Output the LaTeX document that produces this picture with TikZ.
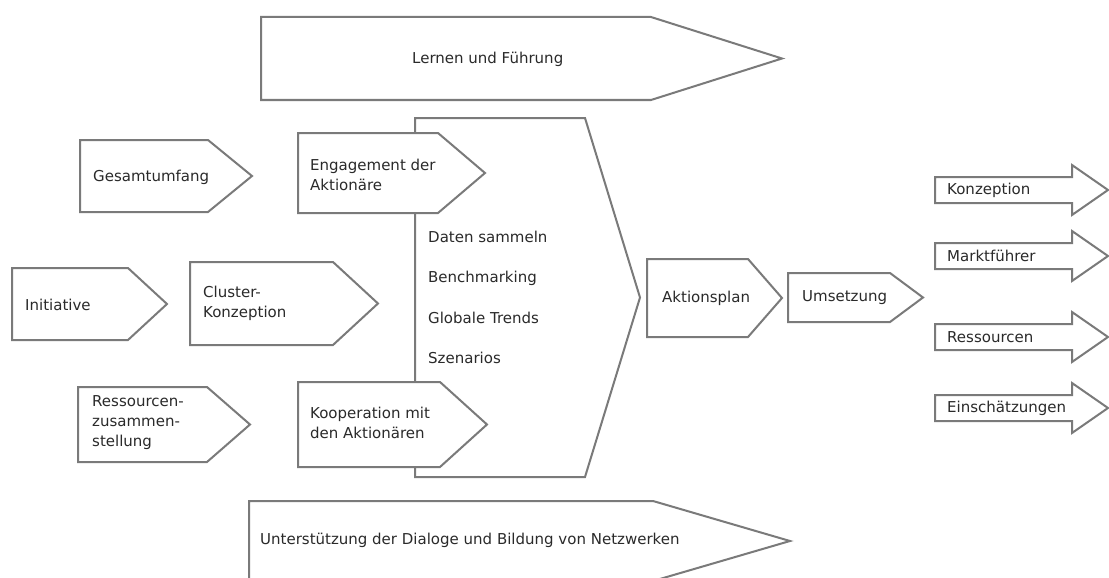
\documentclass[tikz,border=0pt]{standalone}
\usepackage{fontspec}
\setmainfont{DejaVu Sans}
\definecolor{linegray}{HTML}{7A7A7A}
\definecolor{txtgray}{HTML}{2A2A2A}
\tikzset{
  shp/.style={draw=linegray, line width=2pt, fill=white, line join=miter},
  lbl/.style={anchor=west, inner sep=0pt, align=left, text=txtgray, font=\fontsize{15}{20}\selectfont},
}
\newcommand\pentabox[5]{\draw[shp] (#1,#2) -- (#4,#2) -- (#5,{(#2+#3)/2}) -- (#4,#3) -- (#1,#3) -- cycle;}
\newcommand\rarrowbox[1]{\draw[shp] (935,{#1-13}) -- (1072,{#1-13}) -- (1072,{#1-25}) -- (1108,#1) -- (1072,{#1+25}) -- (1072,{#1+13}) -- (935,{#1+13}) -- cycle;}
\begin{document}
\begin{tikzpicture}[x=1pt,y=-1pt]
\useasboundingbox (0,0) rectangle (1109,578);
\fill[white] (0,0) rectangle (1109,578);
\clip (0,0) rectangle (1109,578);
% large arrows
\pentabox{261}{17}{100}{651}{782}
\node[lbl] (lernen) at (412,59) {Lernen und Führung};
\pentabox{249}{501}{581}{653}{790}
\node[lbl] (unterst) at (260,540) {Unterstützung der Dialoge und Bildung von Netzwerken};
% central box
\pentabox{415}{118}{477}{585}{640}
\node[lbl] (daten) at (428,237) {Daten sammeln};
\node[lbl] (bench) at (428,278) {Benchmarking};
\node[lbl] (trends) at (428,318) {Globale Trends};
\node[lbl] (szen) at (428,358) {Szenarios};
% left boxes
\pentabox{80}{140}{212}{208}{252}
\node[lbl] (gesamt) at (93,177) {Gesamtumfang};
\pentabox{298}{133}{213}{438}{485}
\node[lbl] (engag) at (310,175) {Engagement der\\Aktionäre};
\pentabox{12}{268}{340}{128}{167}
\node[lbl] (init) at (25,305) {Initiative};
\pentabox{190}{262}{345}{333}{378}
\node[lbl] (cluster) at (203,303) {Cluster-\\Konzeption};
\pentabox{78}{387}{462}{207}{250}
\node[lbl] (ress) at (92,423) {Ressourcen-\\zusammen-\\stellung};
\pentabox{298}{382}{467}{440}{487}
\node[lbl] (koop) at (310,423) {Kooperation mit\\den Aktionären};
% right side
\pentabox{647}{259}{337}{748}{782}
\node[lbl] (aktion) at (662,298) {Aktionsplan};
\pentabox{788}{273}{322}{890}{923}
\node[lbl] (umsetz) at (802,298) {Umsetzung};
\rarrowbox{190}
\node[lbl] (konz) at (947,190) {Konzeption};
\rarrowbox{256}
\node[lbl] (markt) at (947,256) {Marktführer};
\rarrowbox{337}
\node[lbl] (ressr) at (947,337) {Ressourcen};
\rarrowbox{408}
\node[lbl] (einsch) at (947,408) {Einschätzungen};
\end{tikzpicture}
\end{document}
